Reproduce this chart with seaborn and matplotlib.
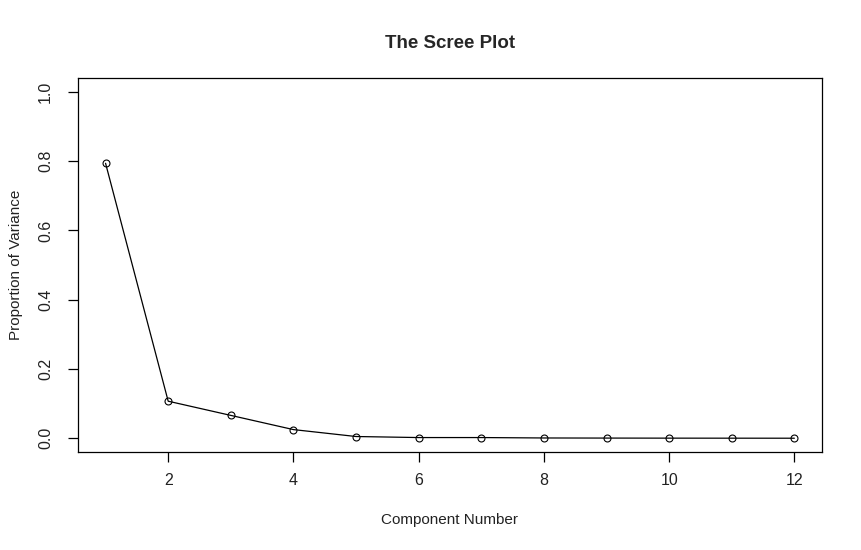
import pandas as pd
import matplotlib
matplotlib.use("Agg")
import matplotlib.pyplot as plt
import seaborn as sns

# proportion of variance per component
components = [1, 2, 3, 4, 5, 6, 7, 8, 9, 10, 11, 12]
prop_var = [0.794, 0.107, 0.066, 0.025, 0.005, 0.002, 0.002, 0.0008, 0.0005, 0.0003, 0.0002, 0.0001]
x_ticks = [2, 4, 6, 8, 10, 12]
y_ticks = [0.0, 0.2, 0.4, 0.6, 0.8, 1.0]

df = pd.DataFrame({"component": components, "prop_var": prop_var})

sns.set_style("ticks")
plt.rcParams["font.family"] = ["Liberation Sans", "DejaVu Sans"]

fig = plt.figure(figsize=(8.62, 5.5), dpi=100)
ax = fig.add_axes([0.0905, 0.178, 0.863, 0.680])

sns.lineplot(data=df, x="component", y="prop_var", ax=ax, color="black", linewidth=0.9,
             marker="o", markersize=5, markerfacecolor="none", markeredgecolor="black",
             markeredgewidth=0.8)

ax.set_xlim(0.56, 12.44)
ax.set_ylim(-0.04, 1.04)
ax.set_xticks(x_ticks)
ax.set_yticks(y_ticks)
ax.set_yticklabels([f"{v:.1f}" for v in y_ticks], rotation=90, va="center")
ax.tick_params(axis="both", direction="out", length=7, width=0.9, labelsize=11.5,
               color="black", labelcolor="#222222", pad=8)
ax.tick_params(axis="y", pad=11)
for s in ax.spines.values():
    s.set_visible(True)
    s.set_color("black")
    s.set_linewidth(0.9)

ax.set_xlabel("Component Number", fontsize=11, labelpad=18, color="#222222")
ax.set_ylabel("Proportion of Variance", fontsize=11, labelpad=11, color="#222222")
ax.set_title("The Scree Plot", fontsize=13.5, fontweight="bold", pad=22)

fig.savefig("out.png", dpi=100, facecolor="white")
